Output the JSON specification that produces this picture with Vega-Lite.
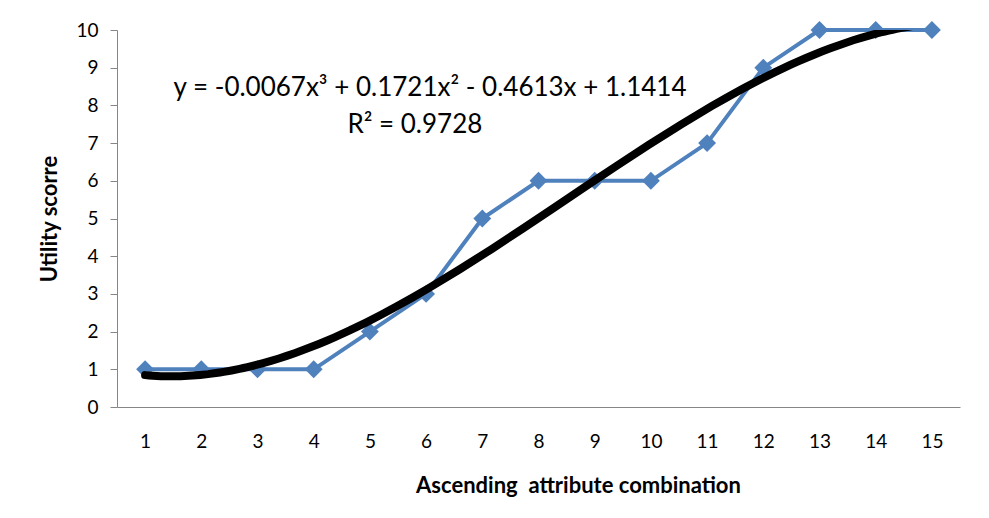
{
  "$schema": "https://vega.github.io/schema/vega-lite/v6.json",
  "width": 843,
  "height": 377,
  "autosize": "none",
  "padding": {"left": 117, "top": 30, "right": 29, "bottom": 111},
  "background": "white",
  "config": {
    "view": {"stroke": null},
    "font": "Lato",
    "axis": {"labelFont": "Lato", "titleFont": "Lato", "grid": false, "domainColor": "#868686", "tickColor": "#868686", "labelColor": "#000000", "titleColor": "#000000", "labelOverlap": false, "labelFontSize": 19, "titleFontSize": 22, "titleFontWeight": "bold"},
    "axisX": {"format": "d", "tickSize": 0, "labelPadding": 25, "titlePadding": 24, "titleX": 461},
    "axisY": {"format": "d", "tickSize": 7, "labelPadding": 12, "titlePadding": 14}
  },
  "datasets": {
    "scores": [
      {"x": 1, "y": 1}, {"x": 2, "y": 1}, {"x": 3, "y": 1}, {"x": 4, "y": 1},
      {"x": 5, "y": 2}, {"x": 6, "y": 3}, {"x": 7, "y": 5}, {"x": 8, "y": 6},
      {"x": 9, "y": 6}, {"x": 10, "y": 6}, {"x": 11, "y": 7}, {"x": 12, "y": 9},
      {"x": 13, "y": 10}, {"x": 14, "y": 10}, {"x": 15, "y": 10}
    ],
    "eq1": [{"label": "y = -0.0067x³ + 0.1721x² - 0.4613x + 1.1414"}],
    "eq2": [{"label": "R² = 0.9728"}]
  },
  "layer": [
    {
      "data": {"name": "scores"},
      "mark": {"type": "line", "color": "#4F81BD", "strokeWidth": 4, "point": {"shape": "diamond", "size": 320, "fill": "#4F81BD", "filled": true}},
      "encoding": {
        "x": {"field": "x", "type": "quantitative", "scale": {"domain": [0.5, 15.5], "nice": false, "zero": false},
          "axis": {"values": [1,2,3,4,5,6,7,8,9,10,11,12,13,14,15], "title": "Ascending\u00a0 attribute combination"}},
        "y": {"field": "y", "type": "quantitative", "scale": {"domain": [0, 10], "nice": false},
          "axis": {"values": [0,1,2,3,4,5,6,7,8,9,10], "title": "Utility scorre"}}
      }
    },
    {
      "data": {"name": "scores"},
      "transform": [{"regression": "y", "on": "x", "method": "poly", "order": 3}],
      "mark": {"type": "line", "stroke": "#000000", "strokeWidth": 8, "strokeCap": "round", "clip": true},
      "encoding": {
        "x": {"field": "x", "type": "quantitative",
          "axis": {"values": [1,2,3,4,5,6,7,8,9,10,11,12,13,14,15], "title": "Ascending\u00a0 attribute combination"}},
        "y": {"field": "y", "type": "quantitative",
          "axis": {"values": [0,1,2,3,4,5,6,7,8,9,10], "title": "Utility scorre"}}
      }
    },
    {
      "data": {"name": "eq1"},
      "mark": {"type": "text", "fontSize": 26, "fontWeight": "normal", "font": "Lato", "fill": "#000000"},
      "encoding": {"text": {"field": "label", "type": "nominal"},
        "x": {"datum": 6.07, "type": "quantitative", "axis": {"values": [1,2,3,4,5,6,7,8,9,10,11,12,13,14,15], "title": "Ascending\u00a0 attribute combination"}},
        "y": {"datum": 8.46, "type": "quantitative", "axis": {"values": [0,1,2,3,4,5,6,7,8,9,10], "title": "Utility scorre"}}}
    },
    {
      "data": {"name": "eq2"},
      "mark": {"type": "text", "fontSize": 26, "fontWeight": "normal", "font": "Lato", "fill": "#000000"},
      "encoding": {"text": {"field": "label", "type": "nominal"},
        "x": {"datum": 5.8, "type": "quantitative", "axis": {"values": [1,2,3,4,5,6,7,8,9,10,11,12,13,14,15], "title": "Ascending\u00a0 attribute combination"}},
        "y": {"datum": 7.48, "type": "quantitative", "axis": {"values": [0,1,2,3,4,5,6,7,8,9,10], "title": "Utility scorre"}}}
    }
  ]
}
